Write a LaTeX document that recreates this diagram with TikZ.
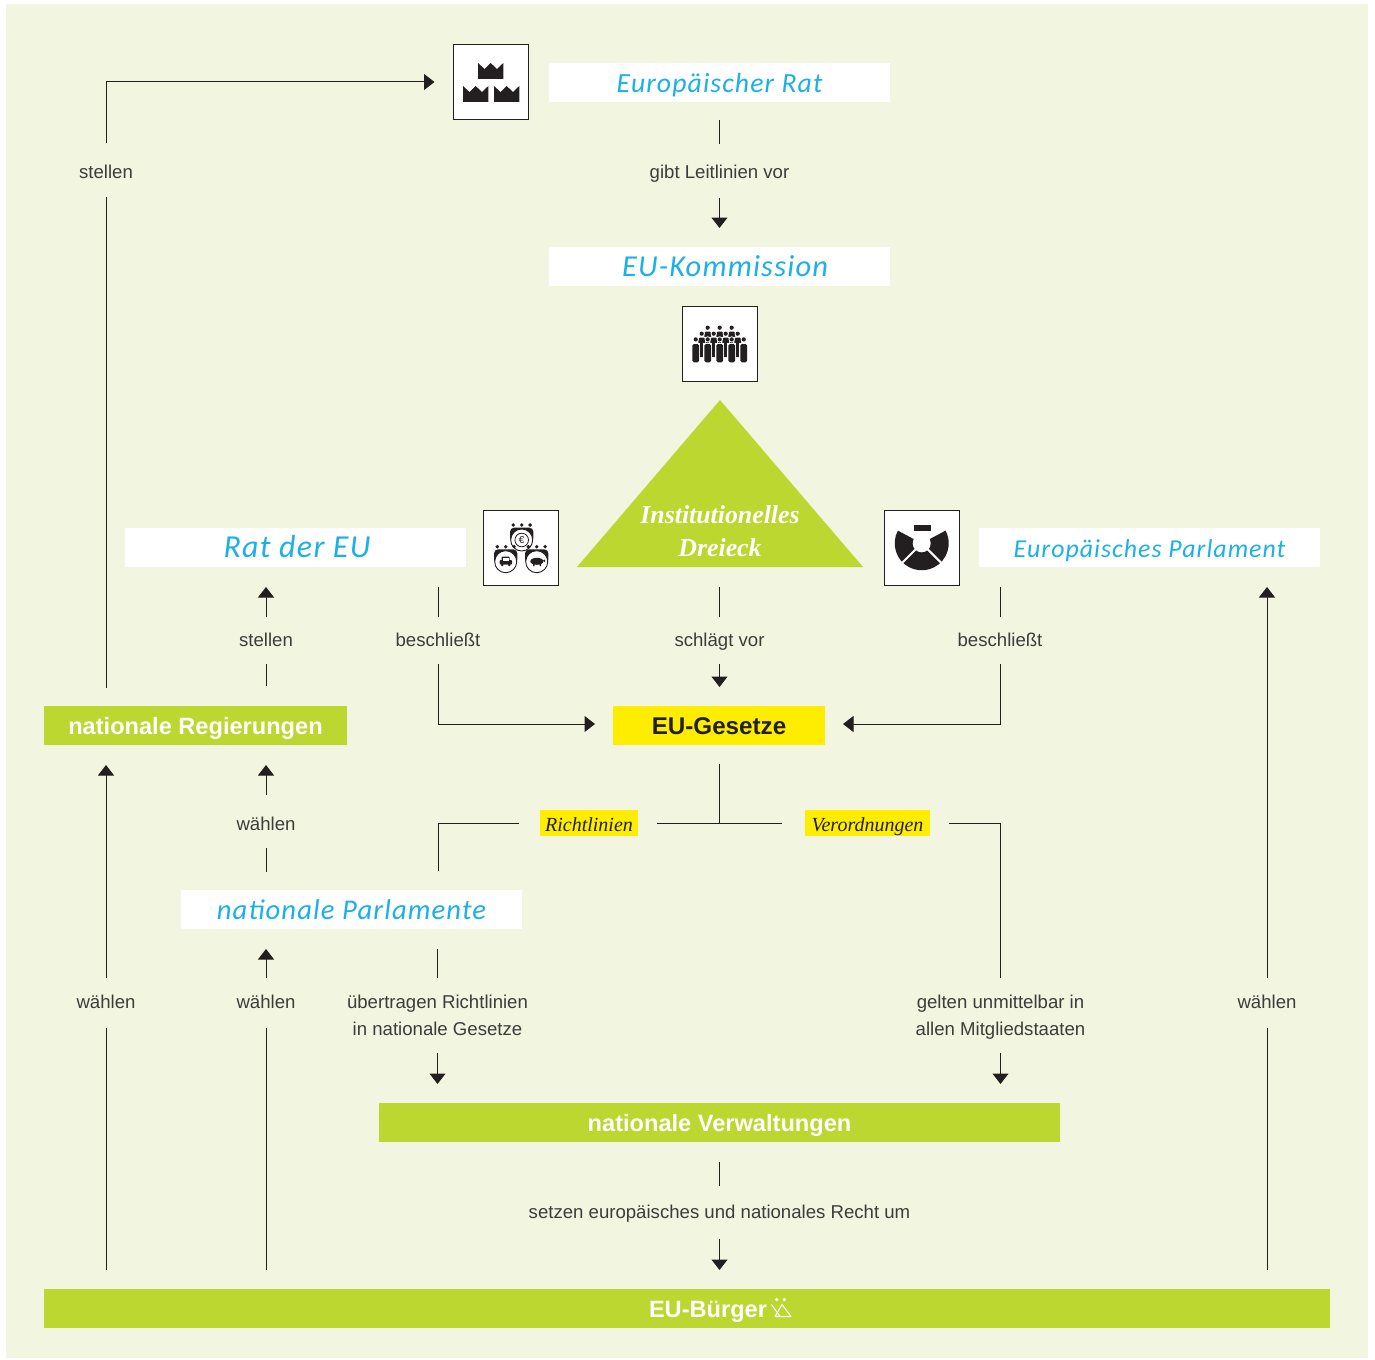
\documentclass[tikz,border=0pt]{standalone}
\usepackage{fontspec}
\usetikzlibrary{arrows.meta,calc}
\setmainfont{Liberation Sans}
\newfontfamily\serifit[ItalicFont={Liberation Serif Italic},BoldItalicFont={Liberation Serif Bold Italic}]{Liberation Serif}
\newfontfamily\hand[LetterSpace=4]{Carlito}
\definecolor{panel}{HTML}{F2F6E0}
\definecolor{lime}{HTML}{BDD731}
\definecolor{yel}{HTML}{FFED00}
\definecolor{sky}{HTML}{1BB0E8}
\definecolor{ink}{HTML}{231F20}
\definecolor{gray1}{HTML}{3C3C3B}
\tikzset{
  box/.style={inner sep=0,outer sep=0,minimum width=#1,minimum height=39},
  whitebox/.style={box=341,fill=white,text=sky,text height=26pt,text depth=6pt},
  greenbox/.style={box=#1,fill=lime,text=white,text height=23pt,text depth=5pt,font=\bfseries\fontsize{23.6}{24}\selectfont},
  yelbox/.style={box=#1,fill=yel,text=ink,text height=23pt,text depth=5pt,font=\bfseries\fontsize{24.2}{24}\selectfont},
  tagbox/.style={inner sep=0,outer sep=0,minimum width=#1,minimum height=26,fill=yel,text=ink,text height=20pt,text depth=4pt,font=\serifit\itshape\fontsize{20}{22}\selectfont},
  lbl/.style={inner sep=0,outer sep=0,minimum height=#1,text=gray1,text height=15pt,text depth=4pt,font=\fontsize{18.6}{27}\selectfont},
  lbltwo/.style={inner sep=0,outer sep=0,minimum height=#1,text=gray1,align=center,font=\fontsize{18.6}{27}\selectfont},
  iconbox/.style={draw=ink,line width=1pt,fill=white,inner sep=0,outer sep=0,minimum size=75},
  link/.style={draw=ink,line width=1pt},
  arr/.style={link,-{Triangle[width=16pt,length=10.5pt]}},
}
\newcommand\handsize[1]{\hand\itshape\fontsize{#1}{#1}\selectfont}
\newcommand\mycrown[2]{\fill[ink,shift={(#1,#2)}] (0,0)--(0,-16)--(6.5,-10)--(12.6,-16)--(19,-10)--(25.3,-16)--(25.3,0)--cycle;}
% person: x, head y, body bottom y, body top y
\newcommand\myperson[4]{%
  \fill[white] (#1,#2) circle (3.1);
  \fill[white] (#1-4.3,#4-1) rectangle (#1+4.3,#3);
  \fill[ink] (#1,#2) circle (2.1);
  \fill[ink,rounded corners=1.4] (#1-3.3,#3) rectangle (#1+3.3,#4);}
\newcommand\mygroup[2]{%
  \foreach \dx in {-8.4,0,8.4} \fill[ink] (#1+\dx,#2-15) circle (1.9);
  \fill[ink,rounded corners=4] (#1-11.7,#2+2) rectangle (#1+11.7,#2-12.3);
  \draw[ink,fill=white,line width=0.9pt] (#1,#2) circle (11);}
\begin{document}
\begin{tikzpicture}[x=1pt,y=-1pt]
\useasboundingbox (0,0) rectangle (1375,1359);
\fill[panel] (6,4) rectangle (1368,1358);

% boxes
\node[whitebox,font=\handsize{27.7}] (rat) at (719.5,82.5) {Europäischer Rat};
\node[whitebox,font=\handsize{30.4}] (kom) at (719.5,266.5) {\hspace*{11pt}EU-Kommission};
\node[whitebox,font=\handsize{32}] (ratEU) at (295.5,547.5) {\hspace*{3pt}Rat der EU};
\node[whitebox,font=\handsize{25.8}] (parl) at (1149.5,547.5) {Europäisches Parlament};
\node[whitebox,font=\handsize{28.6}] (natparl) at (351.5,909.5) {nationale Parlamente};
\node[greenbox=303] (reg) at (195.5,725.5) {nationale Regierungen};
\node[yelbox=212] (ges) at (719,725.5) {EU-Gesetze};
\node[greenbox=681] (verw) at (719.5,1122.5) {nationale Verwaltungen};
\node[greenbox=1286] (buerger) at (687,1308.5) {};
\node[text=white,inner sep=0,text height=23pt,text depth=5pt,font=\bfseries\fontsize{23.6}{24}\selectfont] (buergertext) at (708,1308.5) {EU-Bürger};
\node[tagbox=98] (richt) at (589,823) {Richtlinien};
\node[tagbox=125] (verord) at (867.5,823) {Verordnungen};
\coordinate (gesL) at (613,724);
\coordinate (gesR) at (825,724);

% triangle
\fill[lime] (720,400) -- (863,567) -- (577,567) -- cycle;
\node[inner sep=0,text=white,align=center,font=\serifit\bfseries\itshape\fontsize{25.8}{33.5}\selectfont] (dreieck) at (720,531) {Institutionelles\\Dreieck};
\coordinate (tribase) at (719.5,567);

% icon boxes
\node[iconbox] (icrown) at (491,82) {};
\node[iconbox] (ipeople) at (719.5,343.5) {};
\node[iconbox] (iratEU) at (521,547.5) {};
\node[iconbox] (iparl) at (921.5,547.5) {};

% crowns
\mycrown{478}{79}
\mycrown{463}{102}
\mycrown{494}{102}

% people
\foreach \x in {707.7,719.7,731.7} \myperson{\x}{327.7}{345}{331.5};
\foreach \x in {701.7,713.7,725.7,737.7} \myperson{\x}{333.7}{357}{337.5};
\foreach \x in {695.7,707.7,719.7,731.7,743.7} \myperson{\x}{339.4}{362.3}{344};

% Rat der EU icon
\mygroup{521.7}{540}
\draw[ink,line width=0.8pt] (521.7,540) circle (6.8);
\node[inner sep=0,text=ink,font=\fontsize{10}{10}\selectfont] (euro) at (521.7,540) {€};
\mygroup{505.7}{561.7}
\mygroup{536.7}{561.7}
\fill[ink,rounded corners=1] (499.5,564.5) rectangle (512,560);
\fill[ink,rounded corners=1] (501.7,561) rectangle (509.7,556.5);
\fill[white] (502.7,560.5) rectangle (508.7,557.5);
\fill[ink] (502.3,565) circle (1.4) (509.3,565) circle (1.4);
\fill[ink] (536.9,561.3) ellipse (6.6 and 3.5);
\fill[ink] (543,560.5) -- (545,559.5) -- (545,562.5) -- cycle;
\fill[ink] (533,564) rectangle (534.5,566) (539.5,564) rectangle (541,566);

% Parliament icon
\fill[ink] (921.7,543.3) -- ++(-152:27) arc[start angle=-152,end angle=-388,radius=27] -- cycle;
\draw[white,line width=2pt] (921.7,543.3) -- ++(135:30);
\draw[white,line width=2pt] (921.7,543.3) -- ++(45:30);
\fill[white] (921.7,543.3) circle (9);
\fill[ink] (914,525) rectangle (931,530.7);

% citizen symbol
\fill[white] (776.7,1299.5) circle (1.8) (784.3,1299.5) circle (1.8);
\draw[white,line width=1.1pt,line join=round] (782,1304.5) -- (791,1316.5) -- (775,1316.5) -- cycle;
\draw[white,line width=1.1pt] (771.5,1304.5) -- (780,1316.5);

% labels
\node[lbl=54,text height=21pt] (l1) at (106,170) {stellen};
\node[lbl=54,text height=19pt] (l2) at (719.5,171) {gibt Leitlinien vor};
\node[lbl=47] (l3) at (266,640.5) {stellen};
\node[lbl=47] (l4) at (438,640.5) {beschließt};
\node[lbl=47] (l5) at (719.5,640.5) {schlägt vor};
\node[lbl=47] (l6) at (1000,640.5) {beschließt};
\node[lbl=53,text height=21pt] (l7) at (266,821.5) {wählen};
\node[lbl=50] (l8) at (106,1003) {wählen};
\node[lbl=50] (l9) at (266,1003) {wählen};
\node[lbl=50] (l10) at (1267,1003) {wählen};
\node[lbl=53] (l11) at (719.5,1212.5) {setzen europäisches und nationales Recht um};
\node[lbltwo=75] (l12) at (437.5,1015.5) {übertragen Richtlinien\\in nationale Gesetze};
\node[lbltwo=75] (l13) at (1000.5,1015.5) {gelten unmittelbar in\\\raisebox{0pt}[\height][0pt]{allen Mitgliedstaaten}};

% connectors
\draw[arr,shorten >=19pt] (l1.north) |- (icrown.west);
\draw[link,shorten >=18pt] (l1.south) -- (l1.south |- reg.north);
\draw[arr,shorten >=20pt] (l8.north) -- (l8.north |- reg.south);
\draw[link,shorten >=19pt] (l8.south) -- (l8.south |- buerger.north);
\draw[arr,shorten >=20pt] (l3.north) -- (l3.north |- ratEU.south);
\draw[link,shorten >=20pt] (l3.south) -- (l3.south |- reg.north);
\draw[arr,shorten >=20pt] (l7.north) -- (l7.north |- reg.south);
\draw[link,shorten >=18pt] (l7.south) -- (l7.south |- natparl.north);
\draw[arr,shorten >=20pt] (l9.north) -- (l9.north |- natparl.south);
\draw[link,shorten >=19pt] (l9.south) -- (l9.south |- buerger.north);
\draw[link,shorten >=20pt] (l4.north) -- (l4.north |- ratEU.south);
\draw[arr,shorten >=18pt] (l4.south) |- (gesL);
\draw[link,shorten >=18pt] (l2.north) -- (l2.north |- rat.south);
\draw[arr,shorten >=19pt] (l2.south) -- (l2.south |- kom.north);
\draw[link,shorten >=20pt] (l5.north) -- (l5.north |- tribase);
\draw[arr,shorten >=19pt] (l5.south) -- (l5.south |- ges.north);
\draw[link,shorten >=20pt] (l6.north) -- (l6.north |- parl.south);
\draw[arr,shorten >=18pt] (l6.south) |- (gesR);
\draw[link,shorten <=19pt] (ges.south) -- (ges.south |- richt.east);
\draw[link,shorten <=19pt,shorten >=23pt] (richt.east) -- (verord.west);
\draw[link,shorten <=21pt,shorten >=19pt] (richt.west) -| (l4.south |- natparl.north);
\draw[link,shorten >=20pt] (l12.north) -- (l12.north |- natparl.south);
\draw[arr,shorten >=19pt] (l12.south) -- (l12.south |- verw.north);
\draw[link,shorten <=19pt] (verord.east) -| (l13.north);
\draw[arr,shorten >=19pt] (l13.south) -- (l13.south |- verw.north);
\draw[link,shorten >=20pt] (l11.north) -- (l11.north |- verw.south);
\draw[arr,shorten >=19pt] (l11.south) -- (l11.south |- buerger.north);
\draw[arr,shorten >=20pt] (l10.north) -- (l10.north |- parl.south);
\draw[link,shorten >=19pt] (l10.south) -- (l10.south |- buerger.north);
\end{tikzpicture}
\end{document}
